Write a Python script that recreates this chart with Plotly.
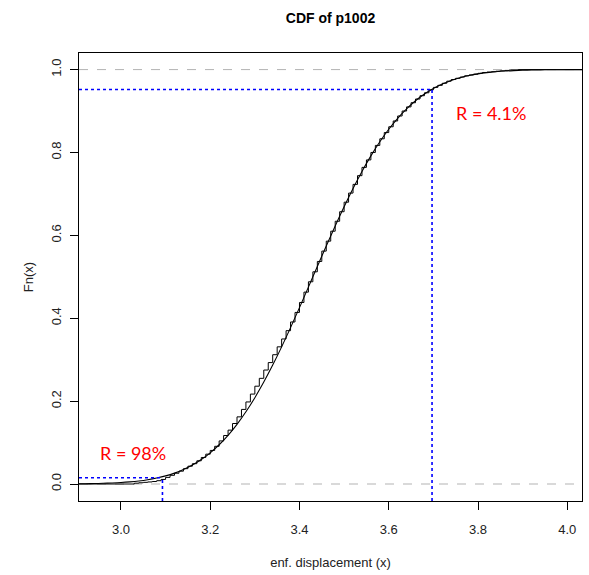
import plotly.graph_objects as go

# ---- data ----
ecdf_x = [3.03, 3.04, 3.05, 3.06, 3.07, 3.08, 3.09, 3.10, 3.11, 3.12, 3.13, 3.14,
          3.15, 3.16, 3.17, 3.18, 3.19, 3.20, 3.21, 3.22, 3.23, 3.24, 3.25, 3.26,
          3.27, 3.28, 3.29, 3.30, 3.31, 3.32, 3.33, 3.34, 3.35, 3.36, 3.37, 3.38,
          3.39, 3.40, 3.41, 3.42, 3.43, 3.44, 3.45, 3.46, 3.47, 3.48, 3.49, 3.50,
          3.51, 3.52, 3.53, 3.54, 3.55, 3.56, 3.57, 3.58, 3.59, 3.60, 3.61, 3.62,
          3.63, 3.64, 3.65, 3.66, 3.67, 3.68, 3.69, 3.70, 3.71, 3.72, 3.73, 3.74,
          3.75, 3.76, 3.77, 3.78, 3.79, 3.80, 3.81, 3.82, 3.83, 3.84, 3.85, 3.86,
          3.87, 3.89]
ecdf_y = [0.002, 0.003, 0.004, 0.005, 0.006, 0.008, 0.011, 0.016, 0.021, 0.026, 0.031, 0.037,
          0.043, 0.049, 0.056, 0.064, 0.072, 0.081, 0.091, 0.104, 0.117, 0.130, 0.146, 0.162,
          0.180, 0.198, 0.217, 0.236, 0.255, 0.275, 0.293, 0.312, 0.331, 0.350, 0.370, 0.391,
          0.414, 0.438, 0.463, 0.488, 0.512, 0.537, 0.562, 0.586, 0.610, 0.634, 0.657, 0.680,
          0.702, 0.723, 0.744, 0.764, 0.782, 0.800, 0.817, 0.833, 0.848, 0.862, 0.876, 0.888,
          0.900, 0.910, 0.920, 0.929, 0.937, 0.944, 0.951, 0.957, 0.962, 0.967, 0.972, 0.976,
          0.979, 0.982, 0.985, 0.987, 0.989, 0.991, 0.993, 0.994, 0.995, 0.996, 0.997, 0.998,
          0.999, 1.000]

curve_x = [2.90, 2.92, 2.94, 2.96, 2.98, 3.00, 3.02, 3.04, 3.06, 3.08, 3.10, 3.12,
           3.14, 3.16, 3.18, 3.20, 3.22, 3.24, 3.26, 3.28, 3.30, 3.32, 3.34, 3.36,
           3.38, 3.40, 3.42, 3.44, 3.46, 3.48, 3.50, 3.52, 3.54, 3.56, 3.58, 3.60,
           3.62, 3.64, 3.66, 3.68, 3.70, 3.72, 3.74, 3.76, 3.78, 3.80, 3.82, 3.84,
           3.86, 3.88, 3.90, 3.92, 3.94, 3.96, 3.98, 4.00, 4.02, 4.04]
curve_y = [0.0005, 0.0007, 0.0011, 0.0017, 0.0025, 0.0036, 0.0052, 0.0074, 0.0104, 0.0144, 0.0196, 0.0263,
           0.0350, 0.0458, 0.0591, 0.0753, 0.0947, 0.1175, 0.1440, 0.1743, 0.2083, 0.2459, 0.2869, 0.3309,
           0.3773, 0.4256, 0.4751, 0.5249, 0.5744, 0.6227, 0.6691, 0.7131, 0.7541, 0.7917, 0.8257, 0.8560,
           0.8825, 0.9053, 0.9247, 0.9409, 0.9542, 0.9650, 0.9737, 0.9804, 0.9856, 0.9896, 0.9926, 0.9948,
           0.9964, 0.9975, 0.9983, 0.9989, 0.9993, 0.9995, 0.9997, 0.9998, 0.9999, 0.9999]

# quantile markers (probability level, x position) and labels
q_levels = [0.015, 0.952]
q_x = [3.093, 3.697]
r_labels = ["R = 98%", "R = 4.1%"]
r_label_x = [3.026, 3.83]
r_label_y = [0.074, 0.896]

x_ticks = [3.0, 3.2, 3.4, 3.6, 3.8, 4.0]
y_ticks = [0.0, 0.2, 0.4, 0.6, 0.8, 1.0]
x_range = [2.906, 4.033]
y_range = [-0.041, 1.040]

fig = go.Figure()

# ECDF step function, extended to the plot edges like R's plot.ecdf
sx = [x_range[0]] + ecdf_x + [x_range[1]]
sy = [0.0] + ecdf_y + [ecdf_y[-1]]
fig.add_trace(go.Scatter(x=sx, y=sy, mode="lines", line_shape="hv",
                         line=dict(color="black", width=1), hoverinfo="skip",
                         showlegend=False))
fig.add_trace(go.Scatter(x=curve_x, y=curve_y, mode="lines", line_shape="spline",
                         line=dict(color="black", width=1.1), hoverinfo="skip",
                         showlegend=False))

shapes = []
for yv in [0.0, 1.0]:
    shapes.append(dict(type="line", xref="x domain", yref="y", x0=0, x1=1, y0=yv, y1=yv,
                       line=dict(color="#B3B3B3", width=1, dash="dash"), layer="below"))
for lv, xv in zip(q_levels, q_x):
    shapes.append(dict(type="line", xref="x", yref="y", x0=x_range[0], x1=xv, y0=lv, y1=lv,
                       line=dict(color="blue", width=1.6, dash="dot")))
    shapes.append(dict(type="line", xref="x", yref="y", x0=xv, x1=xv, y0=y_range[0], y1=lv,
                       line=dict(color="blue", width=1.6, dash="dot")))

annotations = []
for t, ax, ay in zip(r_labels, r_label_x, r_label_y):
    annotations.append(dict(x=ax, y=ay, xref="x", yref="y", text=t, showarrow=False,
                            font=dict(family="Lato, Open Sans, sans-serif", size=18, color="#FF0000")))

fig.update_layout(
    width=589, height=575,
    margin=dict(l=79, r=7, t=53, b=74),
    paper_bgcolor="white", plot_bgcolor="white",
    font=dict(family="Liberation Sans, Arial, sans-serif", size=13, color="#222222"),
    title=dict(text="<b>CDF of p1002</b>", x=0.5, xref="paper", y=1 - 18 / 575, yanchor="middle",
               font=dict(size=14, color="black")),
    shapes=shapes, annotations=annotations,
    xaxis=dict(range=x_range, tickvals=x_ticks, ticktext=[f"{v:.1f}" for v in x_ticks],
               showgrid=False, zeroline=False, showline=True, linecolor="black", linewidth=1,
               mirror=True, ticks="outside", ticklen=8, tickcolor="black",
               ticklabelstandoff=8,
               title=dict(text="enf. displacement (x)", standoff=22, font=dict(size=13))),
    yaxis=dict(range=y_range, tickvals=y_ticks, ticktext=[f"{v:.1f}" for v in y_ticks],
               tickangle=-90, ticklabelstandoff=4,
               showgrid=False, zeroline=False, showline=True, linecolor="black", linewidth=1,
               mirror=True, ticks="outside", ticklen=8, tickcolor="black",
               title=dict(text="Fn(x)", standoff=12, font=dict(size=13))),
)

fig.write_html("out.html")
